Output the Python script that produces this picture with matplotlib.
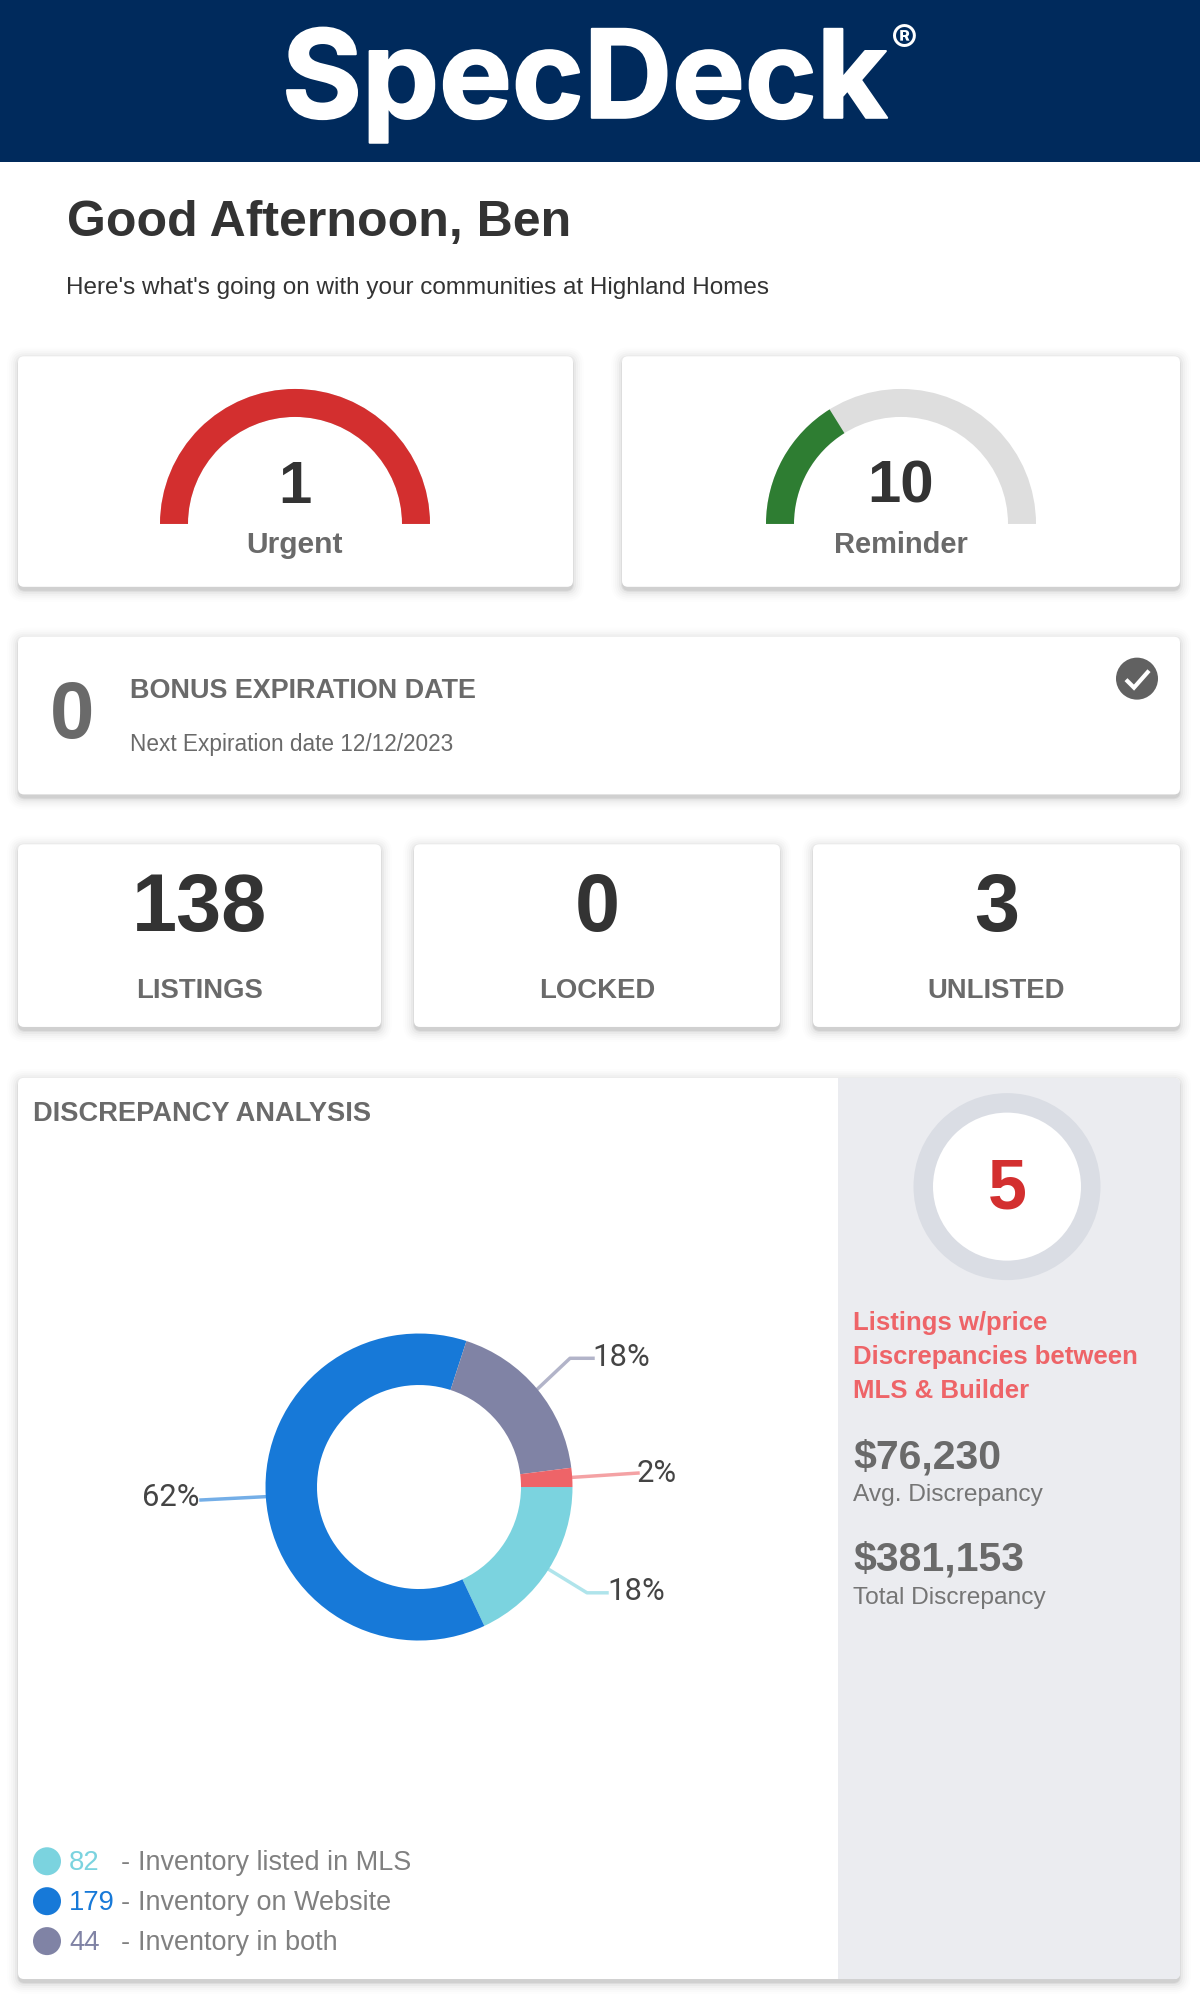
import matplotlib
matplotlib.use("Agg")
import numpy as np
import matplotlib.pyplot as plt
import matplotlib.patheffects as pe
from matplotlib.patches import FancyBboxPatch, Rectangle, Circle, Wedge

plt.rcParams['font.family'] = ['Liberation Sans', 'DejaVu Sans']

# ---- data ----
greeting = "Good Afternoon, Ben"
subtitle = "Here's what's going on with your communities at Highland Homes"
urgent_value = 1
urgent_max = 1
reminder_value = 10
reminder_max = 31
gauge_labels = ["Urgent", "Reminder"]
bonus_count = 0
bonus_title = "BONUS EXPIRATION DATE"
bonus_note = "Next Expiration date 12/12/2023"
stat_values = [138, 0, 3]
stat_labels = ["LISTINGS", "LOCKED", "UNLISTED"]
donut_pct = [18, 62, 18, 2]
donut_colors = ["#7bd3df", "#1779d8", "#8083a5", "#ee6468"]
legend_counts = [82, 179, 44]
legend_labels = ["Inventory listed in MLS", "Inventory on Website", "Inventory in both"]
discrepancy_count = 5
discrepancy_text = ["Listings w/price", "Discrepancies between", "MLS & Builder"]
money_values = ["$76,230", "$381,153"]
money_labels = ["Avg. Discrepancy", "Total Discrepancy"]

W, H = 1200, 2000
SY = 0.998
fig = plt.figure(figsize=(12, 20), dpi=100, facecolor="white")
ax = fig.add_axes([0, 0, 1, 1])
ax.set_axis_off()


def Y(py):
    return H - py * SY


def T(px, py, s, px_size, color="#6a6a6a", weight="normal", ha="left", va="center", **kw):
    return ax.text(px, Y(py), s, fontsize=px_size * 0.72, color=color, fontweight=weight,
                   ha=ha, va=va, zorder=10, **kw)


def card(x0, y0, x1, y1, face="white", z=2):
    h = (y1 - y0) * SY
    for grow, alpha in [(12, .008), (10, .010), (8, .014), (6, .02), (4, .03), (2, .05), (1, .06)]:
        ax.add_patch(FancyBboxPatch((x0 - grow + 1, Y(y1) - 3 - grow), x1 - x0 + 2 * grow - 2,
                                    h + 2 * grow,
                                    boxstyle="round,pad=0,rounding_size=%g" % (6 + grow),
                                    fc="black", ec="none", alpha=alpha, zorder=z))
    ax.add_patch(FancyBboxPatch((x0, Y(y1)), x1 - x0, h,
                                boxstyle="round,pad=0,rounding_size=6",
                                fc=face, ec="none", zorder=z + .1))


# header
ax.add_patch(Rectangle((0, Y(162.5)), W, 162.5, fc="#002a5c", ec="none", zorder=1))
ax.text(282, Y(118), "SpecDeck", fontsize=88, color="white", fontweight="bold",
        family=["Inter", "Liberation Sans"], ha="left", va="baseline", zorder=5,
        path_effects=[pe.withStroke(linewidth=1.5, foreground="white")])
ax.text(904, Y(44), "®", fontsize=29, color="white", fontweight="bold",
        family=["Inter", "Liberation Sans"], ha="center", va="center", zorder=5)

T(67, 223, greeting, 50, "#333333", "bold")
T(66, 289, subtitle, 24.3, "#333333")

# gauges
card(18, 357, 573, 588)
card(622, 357, 1180, 588)
R_out, R_in = 135, 107
for cx, val, vmax, col, lab, lsize in [(295, urgent_value, urgent_max, "#d32f2f", gauge_labels[0], 30),
                                       (901, reminder_value, reminder_max, "#2e7d32", gauge_labels[1], 29)]:
    cy = Y(525)
    split = 180 - 180 * val / vmax
    ax.add_patch(Wedge((cx, cy), R_out, 0, 180, width=R_out - R_in, fc="#dedede", ec="none", zorder=4))
    ax.add_patch(Wedge((cx, cy), R_out, split, 180, width=R_out - R_in, fc=col, ec="none", zorder=5))
    T(cx, 488, str(val), 60, "#333333", "bold", ha="center")
    T(cx, 546, lab, lsize, "#6a6a6a", "bold", ha="center")

# bonus card
card(18, 638, 1180, 796)
T(72, 719, str(bonus_count), 80, "#6a6a6a", "bold", ha="center")
T(130, 692, bonus_title, 27, "#6a6a6a", "bold")
T(130, 746, bonus_note, 22.6, "#6a6a6a")
ax.add_patch(Circle((1137, Y(680)), 21, fc="#616161", ec="none", zorder=5))
ax.plot([1126, 1134, 1149], [Y(681), Y(689), Y(672)], color="white", lw=3, zorder=6,
        solid_capstyle="butt", solid_joinstyle="miter")

# stat cards
for (x0, x1), v, lab in zip([(18, 381), (414, 780), (813, 1180)], stat_values, stat_labels):
    card(x0, 846, x1, 1029)
    c = (x0 + x1) / 2
    T(c, 912, str(v), 81, "#333333", "bold", ha="center")
    T(c, 993, lab, 27.5, "#6a6a6a", "bold", ha="center")

# discrepancy card
card(18, 1080, 1180, 1983)
ax.add_patch(FancyBboxPatch((838, Y(1983)), 342, 903 * SY, boxstyle="round,pad=0,rounding_size=6",
                            fc="#ebecf0", ec="none", zorder=2.5))
ax.add_patch(Rectangle((838, Y(1983)), 20, 903 * SY, fc="#ebecf0", ec="none", zorder=2.6))
T(33, 1116, "DISCREPANCY ANALYSIS", 27.3, "#6a6a6a", "bold")

# donut
dcx, dcy, dR = 419, Y(1490), 153.5
wedges, _ = ax.pie(donut_pct, colors=donut_colors, startangle=0, counterclock=False,
                   center=(dcx, dcy), radius=dR, frame=True,
                   wedgeprops=dict(width=dR - 102, linewidth=0, zorder=4))
label_pos = [(636, 1595), (171, 1500), (621, 1360), (657, 1476)]
line_pts = [[(587, 1596), (607, 1596)], [(201, 1503)], [(570, 1361), (593, 1361)], [(638, 1476)]]
acc = 0.0
for pct, col, lp, pts in zip(donut_pct, donut_colors, label_pos, line_pts):
    mid = np.deg2rad(-(acc + pct * 3.6 / 2))
    acc += pct * 3.6
    sx, sy = dcx + dR * np.cos(mid), dcy + dR * np.sin(mid)
    xs = [sx] + [p[0] for p in pts]
    ys = [sy] + [Y(p[1]) for p in pts]
    ax.plot(xs, ys, color=col, lw=2.5, alpha=.6, zorder=3.5)
    T(lp[0], lp[1], f"{pct}%", 31, "#444444", ha="center", family=["Roboto", "DejaVu Sans"])

# legend
for py, n, lab, col in zip([1865, 1905, 1945], legend_counts, legend_labels,
                           [donut_colors[0], donut_colors[1], donut_colors[2]]):
    ax.add_patch(Circle((47, Y(py)), 14, fc=col, ec="none", zorder=5))
    T(69, py + 2, str(n), 27.5, col)
    T(121, py + 2, "-", 27, "#808080")
    T(138, py + 2, lab, 27, "#808080")

# right panel
rcx, rcy = 1007, Y(1189)
ax.add_patch(Circle((rcx, rcy), 93.5, fc="#dadde4", ec="none", zorder=4))
ax.add_patch(Circle((rcx, rcy), 74, fc="white", ec="none", zorder=5))
T(rcx, 1193, str(discrepancy_count), 70, "#d32f2f", "bold", ha="center")
for py, s in zip([1326, 1360, 1394], discrepancy_text):
    T(853, py, s, 25.7, "#ee6468", "bold")
for py, v, lab in zip([1460, 1563], money_values, money_labels):
    T(853, py, v, 41, "#6a6a6a", "bold")
    T(853, py + 38, lab, 24.5, "#757575")

ax.set_xlim(0, W)
ax.set_ylim(0, H)
ax.set_aspect("auto")
fig.savefig("out.png", dpi=100)
